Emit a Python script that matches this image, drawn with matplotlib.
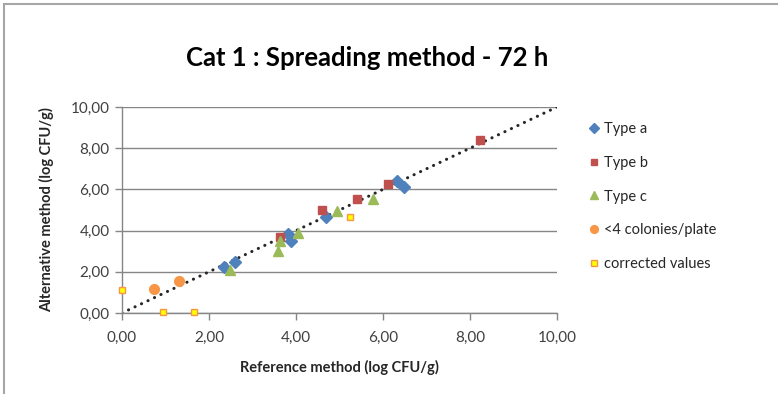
import matplotlib
matplotlib.use("Agg")
import matplotlib.pyplot as plt
from matplotlib.ticker import FixedLocator, FuncFormatter
from matplotlib.patches import Rectangle

plt.rcParams['font.family'] = ['Lato', 'DejaVu Sans']

# Data (log CFU/g): reference method (x) vs alternative method (y)
type_a_x = [2.35, 2.60, 3.81, 3.89, 4.68, 6.32, 6.48]
type_a_y = [2.25, 2.48, 3.84, 3.50, 4.65, 6.43, 6.13]
type_b_x = [3.63, 4.60, 5.40, 6.11, 8.23]
type_b_y = [3.70, 5.01, 5.54, 6.27, 8.38]
type_c_x = [2.48, 3.58, 3.63, 4.04, 4.95, 5.76]
type_c_y = [2.09, 3.00, 3.48, 3.90, 4.93, 5.54]
few_x = [0.73, 1.30]
few_y = [1.18, 1.54]
corr_x = [0.0, 0.95, 1.65, 5.24]
corr_y = [1.10, 0.06, 0.06, 4.65]
line_x = [0, 10]
line_y = [0, 10]
ticks = [0, 2, 4, 6, 8, 10]

fig = plt.figure(figsize=(7.78, 3.94), dpi=100)
fig.patch.set_facecolor('white')

# chart outline (only top and left edges visible in the cropped reference)
fig.add_artist(Rectangle((3.5/778, -0.1), 1.2, 1 - 4.5/394 + 0.1, transform=fig.transFigure,
                         facecolor='none', edgecolor='#A6A6A6', linewidth=1.5))

ax = fig.add_axes([122/778, 1-313/394, (557-122)/778, (313-107)/394])
ax.set_xlim(0, 10)
ax.set_ylim(0, 10)

ax.plot(line_x, line_y, color='#262626', linestyle=(0, (0.05, 2.3)), linewidth=2.2,
        dash_capstyle='round', solid_capstyle='round', zorder=2)

ax.plot(type_a_x, type_a_y, 'D', color='#4F81BD', markersize=6, label='Type a', zorder=3, clip_on=False)
ax.plot(type_b_x, type_b_y, 's', color='#C0504D', markersize=5.5, label='Type b', zorder=3, clip_on=False)
ax.plot(type_c_x, type_c_y, '^', color='#9BBB59', markersize=7.5, label='Type c', zorder=3, clip_on=False)
ax.plot(few_x, few_y, 'o', color='#F79646', markersize=7, label='<4 colonies/plate', zorder=3, clip_on=False)
ax.plot(corr_x, corr_y, 's', markerfacecolor='#FFFF00', markeredgecolor='#F79646',
        markeredgewidth=1.0, markersize=5, linestyle='none', label='corrected values', zorder=4, clip_on=False)

fmt = FuncFormatter(lambda v, p: f"{v:.2f}".replace('.', ','))
ax.xaxis.set_major_locator(FixedLocator(ticks))
ax.yaxis.set_major_locator(FixedLocator(ticks))
ax.xaxis.set_major_formatter(fmt)
ax.yaxis.set_major_formatter(fmt)

ax.grid(axis='y', color='#868686', linewidth=1.0)
ax.set_axisbelow(True)
for s in ['top', 'right']:
    ax.spines[s].set_visible(False)
for s in ['left', 'bottom']:
    ax.spines[s].set_color('#868686')
    ax.spines[s].set_linewidth(1.0)
ax.tick_params(axis='both', colors='#868686', length=5, width=1.0, labelcolor='#404040', labelsize=11)
ax.tick_params(axis='x', pad=8)
ax.tick_params(axis='y', pad=4)

ax.set_xlabel('Reference method (log CFU/g)', fontsize=10.5, fontweight='bold', color='#262626', labelpad=11)
ax.set_ylabel('Alternative method (log CFU/g)', fontsize=10.5, fontweight='bold', color='#262626', labelpad=12)

fig.text(367/778, 1-58/394, 'Cat 1 : Spreading method - 72 h', ha='center', va='center',
         fontsize=18.5, fontweight='bold', color='#000000')

leg = ax.legend(loc='upper left', bbox_to_anchor=(581/778, 1-116/394), bbox_transform=fig.transFigure,
                frameon=False, fontsize=10.5, handletextpad=0.2, labelspacing=1.36, handlelength=1.0,
                borderaxespad=0, markerscale=0.8)
for t in leg.get_texts():
    t.set_color('#262626')

fig.savefig('out.png', dpi=100)
